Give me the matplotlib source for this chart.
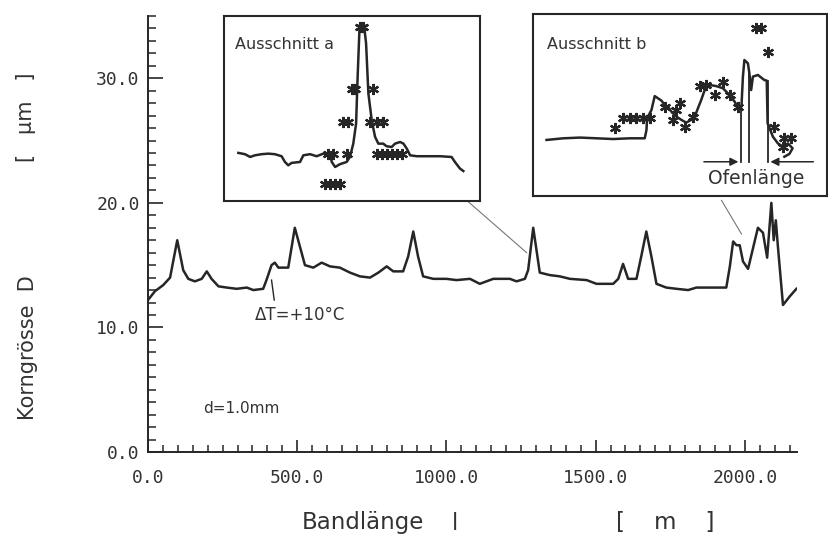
import matplotlib
matplotlib.use("Agg")
import matplotlib.pyplot as plt
from matplotlib.ticker import MultipleLocator, FormatStrFormatter

# ---------------- data ----------------
band_m = [0, 23, 51, 74, 98, 118, 135, 157, 180, 197, 213, 236, 264, 297, 331, 353,
          386, 397, 414, 425, 437, 470, 492, 509, 526, 554, 582, 610, 643, 677, 710,
          744, 772, 800, 822, 855, 872, 889, 905, 922, 956, 1000, 1034, 1079, 1112,
          1157, 1213, 1235, 1263, 1274, 1291, 1302, 1313, 1347, 1380, 1414, 1470,
          1503, 1559, 1576, 1592, 1609, 1637, 1653, 1670, 1687, 1704, 1737, 1771,
          1810, 1838, 1894, 1938, 1950, 1961, 1972, 1983, 1994, 2011, 2022, 2044,
          2061, 2075, 2089, 2097, 2104, 2111, 2128, 2151, 2173]
korn_um = [12.2, 12.9, 13.4, 14.0, 17.0, 14.6, 13.9, 13.7, 13.9, 14.5, 13.9, 13.3,
           13.2, 13.1, 13.2, 13.0, 13.1, 13.8, 15.0, 15.2, 14.8, 14.8, 18.0, 16.5,
           15.0, 14.8, 15.2, 14.9, 14.8, 14.4, 14.1, 14.0, 14.4, 14.9, 14.5, 14.5,
           15.7, 17.7, 15.7, 14.1, 13.9, 13.9, 13.8, 13.9, 13.5, 13.9, 13.9, 13.7,
           13.9, 14.6, 18.0, 16.2, 14.4, 14.2, 14.1, 13.9, 13.8, 13.5, 13.5, 13.9,
           15.1, 13.9, 13.9, 15.7, 17.7, 15.7, 13.5, 13.2, 13.1, 13.0, 13.2, 13.2,
           13.2, 14.9, 16.9, 16.6, 16.6, 15.3, 14.7, 15.8, 18.0, 17.6, 15.6, 20.0,
           17.0, 18.6, 16.5, 11.8, 12.5, 13.1]

x_ticks = [0, 500, 1000, 1500, 2000]
y_ticks = [0, 10, 20, 30]

# Inset a (arbitrary units 0..100)
a_line_x = [5.6, 8.2, 10.2, 12.1, 14.7, 17.3, 19.9, 22.5, 23.8, 25.1, 26.4, 29.7,
            31.0, 33.6, 36.2, 38.8, 41.4, 42.1, 43.4, 45.3, 47.9, 49.2, 50.5, 51.6,
            52.2, 52.9, 53.8, 54.7, 55.5, 56.4, 57.7, 59.0, 60.3, 62.2, 63.5, 65.5,
            66.8, 68.8, 70.1, 71.4, 72.7, 75.3, 79.2, 84.4, 88.9, 90.2, 92.2, 93.5]
a_line_y = [26.0, 25.3, 23.8, 24.7, 25.3, 25.6, 25.3, 24.2, 21.1, 19.3, 20.6, 21.1,
            24.7, 25.3, 24.2, 25.6, 25.3, 21.1, 18.4, 19.9, 21.1, 23.8, 31.0, 41.9,
            67.1, 92.4, 95.1, 95.1, 85.2, 58.1, 43.7, 34.7, 31.0, 31.0, 29.6, 29.2,
            31.0, 31.9, 31.0, 28.3, 24.7, 24.2, 24.2, 24.2, 23.8, 21.1, 17.5, 16.2]
a_mark_x = [53.1, 54.4, 49.9, 51.2, 58.1, 46.6, 48.6, 57.0, 59.6, 62.2, 40.8, 42.7,
            47.9, 59.6, 61.6, 63.5, 65.5, 67.4, 69.4, 39.5, 41.4, 43.4, 45.3]
a_mark_y = [94.2, 94.2, 60.3, 60.3, 60.3, 42.8, 42.8, 42.8, 42.8, 42.8, 25.3, 25.3,
            25.3, 25.3, 25.3, 25.3, 25.3, 25.3, 25.3, 9.4, 9.4, 9.4, 9.4]

# Inset b (arbitrary units 0..100)
b_line_x = [4.6, 10.3, 16.0, 21.6, 27.3, 32.9, 38.0, 38.6, 38.8, 40.3, 41.4, 42.5,
            43.7, 44.8, 45.9, 47.1, 48.8, 50.5, 52.1, 53.8, 55.0, 56.1, 57.2, 58.4,
            60.1, 62.3, 64.6, 66.3, 67.4, 68.6, 69.7, 70.9, 71.4, 71.9, 73.1, 73.6,
            74.2, 74.8, 76.5, 78.7, 79.5, 79.8, 80.7, 81.6, 83.3, 85.0, 86.7, 88.3,
            87.2, 85.5]
b_line_y = [30.8, 31.7, 32.1, 31.7, 31.3, 31.7, 31.7, 36.3, 42.7, 47.3, 54.9, 53.7,
            52.4, 50.0, 49.1, 46.3, 43.6, 41.8, 40.3, 41.8, 43.6, 48.2, 52.7, 58.2,
            61.0, 60.4, 59.2, 56.4, 54.2, 51.8, 48.7, 49.1, 65.6, 74.7, 72.9, 67.4,
            58.2, 65.6, 66.5, 63.7, 63.4, 39.9, 36.3, 32.6, 28.9, 27.1, 28.9, 26.2,
            23.1, 21.6]
b_mark_x = [27.8, 30.7, 32.9, 35.2, 37.4, 39.7, 44.8, 48.8, 49.9, 47.6, 51.6, 54.4,
            56.7, 59.0, 61.8, 64.6, 66.9, 69.7, 75.9, 77.6, 79.9, 82.1, 85.5, 87.8,
            85.0]
b_mark_y = [37.2, 42.7, 42.7, 42.7, 42.7, 42.7, 49.1, 47.3, 50.9, 41.8, 38.1, 43.6,
            60.4, 61.0, 55.5, 62.8, 55.5, 49.1, 92.1, 92.1, 79.3, 38.1, 31.7, 31.7,
            27.1]
ofen_left_u = 70.8
ofen_right_u = 79.8

INK = "#262626"
TXT = "#333333"

fig = plt.figure(figsize=(8.29, 5.38), dpi=100)
fig.patch.set_facecolor("white")

ax = fig.add_axes([148 / 829, 1 - 452 / 538, 649 / 829, (452 - 16) / 538])
ax.plot(band_m, korn_um, color=INK, lw=1.8, solid_joinstyle="round")
ax.set_xlim(0, 2175)
ax.set_ylim(0, 35)
for s in ["top", "right"]:
    ax.spines[s].set_visible(False)
for s in ["left", "bottom"]:
    ax.spines[s].set_linewidth(1.4)
    ax.spines[s].set_color(INK)

ax.xaxis.set_major_locator(plt.FixedLocator(x_ticks))
ax.xaxis.set_minor_locator(MultipleLocator(50))
ax.yaxis.set_major_locator(plt.FixedLocator(y_ticks))
ax.yaxis.set_minor_locator(MultipleLocator(1))
ax.xaxis.set_major_formatter(FormatStrFormatter("%.1f"))
ax.yaxis.set_major_formatter(FormatStrFormatter("%.1f"))
ax.tick_params(axis="x", which="major", direction="in", length=9, width=1.2,
               pad=12, colors=INK, labelcolor=TXT, labelsize=13)
ax.tick_params(axis="x", which="minor", direction="in", length=5, width=1.1, colors=INK)
ax.tick_params(axis="y", which="major", direction="in", length=11, width=1.2,
               pad=6, colors=INK, labelcolor=TXT, labelsize=13)
ax.tick_params(axis="y", which="minor", direction="in", length=6, width=1.1, colors=INK)
for lab in ax.get_xticklabels() + ax.get_yticklabels():
    lab.set_family("DejaVu Sans Mono")

# annotations in main axes
ax.plot([414, 423], [13.8, 12.2], color=INK, lw=1.0)
ax.text(358, 11.0, "ΔT=+10°C", fontsize=12, color=TXT, ha="left", va="center")
ax.text(184, 3.5, "d=1.0mm", fontsize=11, color=TXT, ha="left", va="center")
ax.plot([1068, 1269], [20.2, 16.0], color="#777777", lw=0.8, clip_on=False)
ax.plot([1922, 1989], [20.2, 17.5], color="#777777", lw=0.8, clip_on=False)

# axis labels
fig.text(302 / 829, 1 - 523 / 538, "Bandlänge", fontsize=16.5, color=TXT,
         ha="left", va="center")
fig.text(455 / 829, 1 - 523 / 538, "l", fontsize=16.5, color=TXT,
         ha="center", va="center")
fig.text(665 / 829, 1 - 523 / 538, "[    m    ]", fontsize=16.5, color=TXT,
         ha="center", va="center")
fig.text(28 / 829, 1 - 420 / 538, "Korngrösse  D", fontsize=15, color=TXT,
         rotation=90, ha="center", va="bottom")
fig.text(26 / 829, 1 - 117 / 538, "[   µm   ]", fontsize=15, color=TXT,
         rotation=90, ha="center", va="center")

asterisk = (6, 2, 0)

# inset a
axa = fig.add_axes([224 / 829, 1 - 201 / 538, 256 / 829, 185 / 538])
axa.set_xlim(0, 100)
axa.set_ylim(0, 100)
axa.set_xticks([])
axa.set_yticks([])
for s in axa.spines.values():
    s.set_linewidth(1.5)
    s.set_color(INK)
axa.plot(a_line_x, a_line_y, color=INK, lw=1.8)
axa.plot(a_mark_x, a_mark_y, ls="none", marker=asterisk, ms=8, mew=1.6, color=INK)
axa.text(4.3, 84.7, "Ausschnitt a", fontsize=11.5, color=TXT, ha="left", va="center")

# inset b
axb = fig.add_axes([533 / 829, 1 - 196 / 538, 294 / 829, 182 / 538])
axb.set_xlim(0, 100)
axb.set_ylim(0, 100)
axb.set_xticks([])
axb.set_yticks([])
for s in axb.spines.values():
    s.set_linewidth(1.5)
    s.set_color(INK)
axb.plot(b_line_x, b_line_y, color=INK, lw=1.8)
axb.plot(b_mark_x, b_mark_y, ls="none", marker=asterisk, ms=8, mew=1.6, color=INK)
axb.plot([ofen_left_u, ofen_left_u], [18.5, 49.0], color=INK, lw=1.3)
axb.plot([73.6, 73.6], [18.5, 67.0], color=INK, lw=1.3)
axb.plot([ofen_right_u, ofen_right_u], [18.5, 63.4], color=INK, lw=1.3)
axb.annotate("", xy=(ofen_left_u, 18.8), xytext=(57.2, 18.8),
             arrowprops=dict(arrowstyle="-|>", color=INK, lw=1.1, mutation_scale=12))
axb.annotate("", xy=(ofen_right_u, 18.8), xytext=(96.3, 18.8),
             arrowprops=dict(arrowstyle="-|>", color=INK, lw=1.1, mutation_scale=12))
axb.text(75.9, 9.5, "Ofenlänge", fontsize=13.5, color=TXT, ha="center", va="center")
axb.text(4.6, 83.0, "Ausschnitt b", fontsize=11.5, color=TXT, ha="left", va="center")

fig.savefig("out.png", dpi=100, facecolor="white")
